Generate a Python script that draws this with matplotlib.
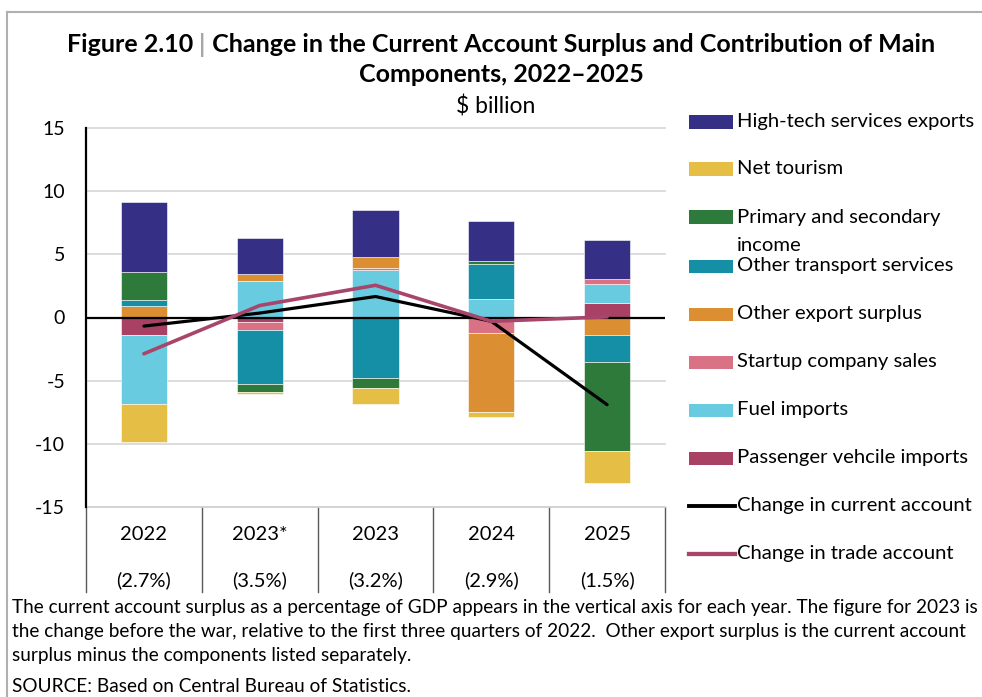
import matplotlib
matplotlib.use("Agg")
import matplotlib.pyplot as plt
from matplotlib.patches import Rectangle
from matplotlib.lines import Line2D
import numpy as np

plt.rcParams['font.family'] = ['Lato', 'DejaVu Sans']

# ---- data ($ billion) ----
years = ["2022", "2023*", "2023", "2024", "2025"]
gdp_share = ["(2.7%)", "(3.5%)", "(3.2%)", "(2.9%)", "(1.5%)"]

# stacking order (closest to zero first)
passenger_vehicles = [-1.42, -0.39, 0.00, 0.00, 1.17]
fuel_imports       = [-5.43, 2.90, 3.74, 1.47, 1.49]
startup_sales      = [0.00, -0.58, 0.19, -1.20, 0.42]
other_export       = [0.92, 0.58, 0.89, -6.28, -1.37]
other_transport    = [0.48, -4.27, -4.77, 2.77, -2.16]
primary_secondary  = [2.18, -0.69, -0.84, 0.26, -7.06]
net_tourism        = [-3.00, -0.13, -1.21, -0.40, -2.48]
hightech_exports   = [5.60, 2.82, 3.66, 3.14, 3.09]

current_account = [-0.68, 0.35, 1.66, -0.30, -6.90]
trade_account   = [-2.87, 0.95, 2.55, -0.30, 0.05]

series = [
    ("Passenger vehcile imports", passenger_vehicles, "#A84163"),
    ("Fuel imports", fuel_imports, "#69CBDF"),
    ("Startup company sales", startup_sales, "#DA7285"),
    ("Other export surplus", other_export, "#DB8F32"),
    ("Other transport services", other_transport, "#158FA6"),
    ("Primary and secondary\nincome", primary_secondary, "#2E7A3A"),
    ("Net tourism", net_tourism, "#E5BE45"),
    ("High-tech services exports", hightech_exports, "#352F85"),
]
line_series = [
    ("Change in current account", current_account, "#000000", 2.3),
    ("Change in trade account", trade_account, "#A8456A", 2.6),
]

W, H = 982, 697
fig = plt.figure(figsize=(W / 100, H / 100), dpi=100)

def fx(px):
    return px / W

def fy(py):
    return 1 - py / H

ax_left, ax_right, ax_top, ax_bot = 86, 665, 128, 507
ax = fig.add_axes([fx(ax_left), fy(ax_bot), fx(ax_right - ax_left), (ax_bot - ax_top) / H])

x = np.arange(len(years))
pos_base = np.zeros(len(years))
neg_base = np.zeros(len(years))
for name, vals, color in series:
    v = np.array(vals, dtype=float)
    bottom = np.where(v >= 0, pos_base, neg_base)
    ax.bar(x, v, width=0.4, bottom=bottom, color=color, edgecolor="white",
           linewidth=0.4, zorder=2)
    pos_base = pos_base + np.where(v >= 0, v, 0)
    neg_base = neg_base + np.where(v < 0, v, 0)

ax.axhline(0, color="black", lw=1.6, zorder=3)

for name, vals, color, lw in line_series:
    ax.plot(x, vals, color=color, lw=lw, zorder=4, solid_capstyle="round",
            solid_joinstyle="miter")

ax.set_xlim(-0.5, len(years) - 0.5)
ax.set_ylim(-15, 15)
ax.set_yticks([15, 10, 5, 0, -5, -10, -15])
ax.set_yticklabels(["15", "10", "5", "0", "-5", "-10", "-15"], fontsize=14)
ax.tick_params(axis="y", length=0, pad=15)
ax.set_xticks([])
for yv in [15, 10, 5, -5, -10]:
    ax.axhline(yv, color="#d9d9d9", lw=1.3, zorder=1, clip_on=False)

for s in ["top", "right"]:
    ax.spines[s].set_visible(False)
ax.spines["left"].set_color("black")
ax.spines["left"].set_linewidth(1.6)
ax.spines["left"].set_zorder(5)
ax.spines["bottom"].set_color("#d0d0d0")
ax.spines["bottom"].set_linewidth(1.3)

# category separators and labels below the axis
sep_bottom = -(592 - ax_bot) / (ax_bot - ax_top)
trans = ax.get_xaxis_transform()
for b in np.arange(-0.5, len(years), 1.0):
    ax.plot([b, b], [0, sep_bottom], color="#595959", lw=1.0, transform=trans,
            clip_on=False)
for i, (yr, pct) in enumerate(zip(years, gdp_share)):
    ax.text(i, -(535 - ax_bot) / (ax_bot - ax_top), yr, transform=trans,
            ha="center", va="center", fontsize=14.5)
    ax.text(i, -(580 - ax_bot) / (ax_bot - ax_top), pct, transform=trans,
            ha="center", va="center", fontsize=14.5)

# title
renderer = fig.canvas.get_renderer()
parts = [("Figure 2.10 ", "black"), ("|", "#a6a6a6"),
         (" Change in the Current Account Surplus and Contribution of Main", "black")]
texts = []
for s, c in parts:
    t = fig.text(0, fy(45), s, color=c, fontsize=18, fontweight="bold",
                 ha="left", va="center")
    texts.append(t)
widths = [t.get_window_extent(renderer).width for t in texts]
start = 501 - sum(widths) / 2
for t, w in zip(texts, widths):
    t.set_x(fx(start))
    start += w
fig.text(fx(501), fy(75), "Components, 2022\u20132025", fontsize=18,
         fontweight="bold", ha="center", va="center")
fig.text(fx(496), fy(106), "$ billion", fontsize=16.5, ha="center", va="center")

# legend
legend_rows = [
    (series[7], 122), (series[6], 169), (series[5], 217), (series[4], 266),
    (series[3], 314), (series[2], 362), (series[1], 410), (series[0], 458),
]
for (name, _, color), yc in legend_rows:
    fig.patches.append(Rectangle((fx(689), fy(yc + 6.5)), fx(44), 13 / H,
                                 facecolor=color, edgecolor="none",
                                 transform=fig.transFigure))
    if "\n" in name:
        fig.text(fx(737), fy(yc - 8), name, fontsize=14.6, ha="left", va="top",
                 linespacing=1.8)
    else:
        fig.text(fx(737), fy(yc), name, fontsize=14.6, ha="left", va="center")
for (name, _, color, lw), yc in zip(line_series, [506, 554]):
    fig.lines.append(Line2D([fx(689), fx(735)], [fy(yc), fy(yc)], color=color,
                            lw=lw + 0.5, transform=fig.transFigure))
    fig.text(fx(737), fy(yc), name, fontsize=14.6, ha="left", va="center")

# notes
notes = [
    ("The current account surplus as a percentage of GDP appears in the vertical axis for each year. The figure for 2023 is", 607),
    ("the change before the war, relative to the first three quarters of 2022.  Other export surplus is the current account", 632),
    ("surplus minus the components listed separately.", 656),
    ("SOURCE: Based on Central Bureau of Statistics.", 686),
]
for s, yc in notes:
    fig.text(fx(12), fy(yc), s, fontsize=13.7, ha="left", va="center")

# frame
fig.lines.append(Line2D([fx(7), 1], [fy(12), fy(12)], color="#b0b0b0", lw=1.5,
                        transform=fig.transFigure))
fig.lines.append(Line2D([fx(7), fx(7)], [fy(12), 0], color="#b0b0b0", lw=1.5,
                        transform=fig.transFigure))

fig.savefig("out.png", dpi=100)
